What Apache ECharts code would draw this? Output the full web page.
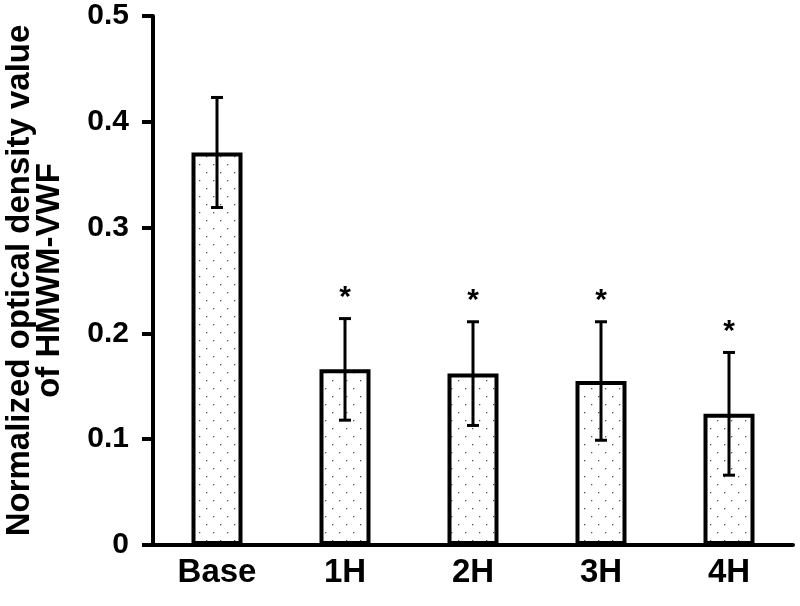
<!DOCTYPE html>
<html>
<head>
<meta charset="utf-8">
<script src="https://cdn.jsdelivr.net/npm/echarts@6/dist/echarts.min.js"></script>
<style>html,body{margin:0;padding:0;background:#fff}#c{width:800px;height:606px}</style>
</head>
<body>
<div id="c"></div>
<script>
const categories = ['Base', '1H', '2H', '3H', '4H'];
const means = [0.371, 0.166, 0.162, 0.155, 0.124];
const errors = [0.052, 0.048, 0.049, 0.056, 0.058];
const marks = ['', '*', '*', '*', '*'];
const yTicks = [0, 0.1, 0.2, 0.3, 0.4, 0.5];

const pc = document.createElement('canvas');
pc.width = 14; pc.height = 16;
const g = pc.getContext('2d');
g.fillStyle = '#fff'; g.fillRect(0, 0, 14, 16);
g.fillStyle = '#555';
g.fillRect(3, 4, 1.3, 1.3);
g.fillRect(10, 12, 1.3, 1.3);

const FONT = 'Liberation Sans, Arial, sans-serif';
const chart = echarts.init(document.getElementById('c'));
chart.setOption({
  animation: false,
  backgroundColor: '#fff',
  grid: { left: 153, right: 7, top: 16, bottom: 61, containLabel: false, outerBoundsMode: 'none' },
  xAxis: {
    type: 'category',
    data: categories,
    axisLine: { lineStyle: { color: '#000', width: 4 } },
    axisTick: { show: false },
    axisLabel: { color: '#000', fontSize: 33, fontWeight: 'bold', fontFamily: FONT, margin: 11 }
  },
  yAxis: {
    type: 'value',
    min: yTicks[0], max: yTicks[yTicks.length - 1], interval: 0.1,
    name: 'Normalized optical density value\nof HMWM-VWF',
    nameLocation: 'middle',
    nameGap: 88,
    nameTextStyle: { color: '#000', fontSize: 33, fontWeight: 'bold', fontFamily: FONT, lineHeight: 30 },
    axisLine: { show: true, lineStyle: { color: '#000', width: 4 } },
    axisTick: { show: true, length: 11, lineStyle: { color: '#000', width: 4 } },
    splitLine: { show: false },
    axisLabel: { color: '#000', fontSize: 30, fontWeight: 'bold', fontFamily: FONT, margin: 24,
      formatter: v => (v === 0 ? '0' : v.toFixed(1)) }
  },
  series: [
    {
      type: 'bar',
      data: means,
      barWidth: 51,
      itemStyle: { color: { image: pc, repeat: 'repeat' }, borderColor: '#000', borderWidth: 4 },
      z: 2
    },
    {
      type: 'custom',
      z: 5,
      data: means.map((m, i) => [i, m, errors[i], marks[i]]),
      renderItem: function (params, api) {
        const i = api.value(0), m = api.value(1), e = api.value(2);
        const top = api.coord([i, m + e]);
        const bot = api.coord([i, m - e]);
        const x = top[0];
        const half = 6;
        const st = { stroke: '#000', lineWidth: 3 };
        const children = [
          { type: 'line', shape: { x1: x, y1: top[1], x2: x, y2: bot[1] }, style: st },
          { type: 'line', shape: { x1: x - half, y1: top[1], x2: x + half, y2: top[1] }, style: st },
          { type: 'line', shape: { x1: x - half, y1: bot[1], x2: x + half, y2: bot[1] }, style: st }
        ];
        const mk = marks[params.dataIndex];
        if (mk) {
          children.push({ type: 'text', x: x, y: top[1] - 6,
            style: { text: mk, fill: '#000', font: 'bold 30px ' + FONT, align: 'center', verticalAlign: 'bottom' } });
        }
        return { type: 'group', children: children };
      }
    }
  ]
});
</script>
</body>
</html>
